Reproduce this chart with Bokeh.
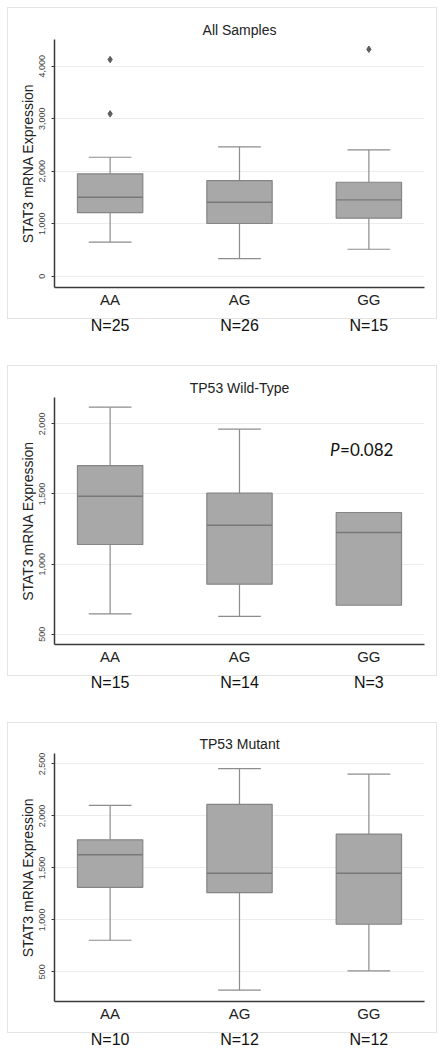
from bokeh.plotting import figure
from bokeh.models import (Range1d, FixedTicker, NumeralTickFormatter, LinearAxis, Label)
from bokeh.layouts import column
from bokeh.embed import file_html
from bokeh.resources import INLINE

# ---------------- data ----------------
categories = ["AA", "AG", "GG"]

# All samples
all_n = [25, 26, 15]
all_low = [648, 337, 514]
all_q1 = [1213, 1004, 1105]
all_med = [1505, 1410, 1455]
all_q3 = [1950, 1823, 1790]
all_high = [2267, 2464, 2408]
all_out_cat = ["AA", "AA", "GG"]
all_out_val = [4128, 3093, 4324]
all_ticks = [0, 1000, 2000, 3000, 4000]

# TP53 wild-type
wt_n = [15, 14, 3]
wt_low = [645, 628, 707]
wt_q1 = [1140, 857, 707]
wt_med = [1484, 1277, 1225]
wt_q3 = [1703, 1506, 1368]
wt_high = [2119, 1962, 1368]
wt_ticks = [500, 1000, 1500, 2000]
wt_p_text = "=0.082"

# TP53 mutant
mut_n = [10, 12, 12]
mut_low = [804, 324, 510]
mut_q1 = [1313, 1262, 958]
mut_med = [1626, 1448, 1448]
mut_q3 = [1770, 2110, 1825]
mut_high = [2101, 2455, 2401]
mut_ticks = [500, 1000, 1500, 2000, 2500]

# ---------------- style ----------------
FONT = "Liberation Sans"
BOX_FILL = "#a8a8a8"
BOX_LINE = "#858585"
WHISK = "#8c8c8c"
AXIS = "#3a3a3a"
BORDER = "#e4e4e4"
BOX_W = 0.505
CAP_W = 0.33
FIG_W = 445


def border_styles(bottom):
    # faint panel frame drawn as the page background behind the (transparent) canvas
    g = f"linear-gradient({BORDER},{BORDER})"
    h = bottom - 7
    return {
        "background-color": "white",
        "background-image": ", ".join([g] * 4),
        "background-size": f"430px 1px, 430px 1px, 1px {h}px, 1px {h}px",
        "background-position": f"7px 7px, 7px {bottom}px, 7px 7px, 436px 7px",
        "background-repeat": "no-repeat",
    }


def panel(title, n, low, q1, med, q3, high, yrange, yticks, height, top, frame_h,
          border_bottom, out_cat=None, out_val=None, ptext=None, ppos=None):
    pos = [i + 1 for i in range(len(categories))]
    p = figure(width=FIG_W, height=height, output_backend="svg", toolbar_location=None,
               x_range=Range1d(0.57, 3.43), y_range=Range1d(*yrange),
               min_border_left=54, min_border_right=21, min_border_top=top,
               min_border_bottom=height - top - frame_h,
               styles=border_styles(border_bottom))
    p.outline_line_color = None
    p.background_fill_color = None
    p.border_fill_color = None

    p.title.text = title
    p.title.align = "center"
    p.title.text_font = FONT
    p.title.text_font_size = "14px"
    p.title.text_font_style = "normal"
    p.title.text_color = "#222222"
    p.title.standoff = 3

    # x axis (categories)
    xa = p.xaxis[0]
    xa.ticker = FixedTicker(ticks=pos)
    xa.major_label_overrides = {pp: c for pp, c in zip(pos, categories)}
    xa.major_tick_line_color = None
    xa.minor_tick_line_color = None
    xa.major_tick_out = 0
    xa.major_tick_in = 0
    xa.axis_line_color = AXIS
    xa.axis_line_width = 1.5
    xa.major_label_standoff = 3
    xa.major_label_text_font = FONT
    xa.major_label_text_font_size = "15px"
    xa.major_label_text_color = "#222222"

    # N labels axis
    na = LinearAxis(ticker=FixedTicker(ticks=pos),
                    major_label_overrides={pp: f"N={v}" for pp, v in zip(pos, n)},
                    axis_line_color=None, major_tick_line_color=None,
                    minor_tick_line_color=None, major_tick_out=0, major_tick_in=0,
                    major_label_standoff=6, major_label_text_font=FONT,
                    major_label_text_font_size="16px", major_label_text_color="#111111")
    p.add_layout(na, "below")

    # y axis
    ya = p.yaxis[0]
    ya.ticker = FixedTicker(ticks=yticks)
    ya.formatter = NumeralTickFormatter(format="0,0")
    ya.major_label_orientation = "vertical"
    ya.major_label_text_font = FONT
    ya.major_label_text_font_size = "9px"
    ya.major_label_text_color = "#444444"
    ya.major_label_standoff = 6
    ya.major_tick_out = 3
    ya.major_tick_in = 0
    ya.minor_tick_line_color = None
    ya.major_tick_line_color = AXIS
    ya.axis_line_color = AXIS
    ya.axis_line_width = 1.5
    ya.axis_label = "STAT3 mRNA Expression"
    ya.axis_label_text_font = FONT
    ya.axis_label_text_font_size = "14px"
    ya.axis_label_text_font_style = "normal"
    ya.axis_label_text_color = "#222222"
    ya.axis_label_standoff = 1

    p.xgrid.grid_line_color = None
    p.ygrid.grid_line_color = "#ececec"
    p.ygrid.grid_line_width = 1

    # whiskers (only where they extend beyond the box)
    up_idx = [i for i in range(len(pos)) if high[i] > q3[i]]
    lo_idx = [i for i in range(len(pos)) if low[i] < q1[i]]
    p.segment(x0=[pos[i] for i in up_idx], x1=[pos[i] for i in up_idx],
              y0=[q3[i] for i in up_idx], y1=[high[i] for i in up_idx],
              line_color=WHISK, line_width=1.2)
    p.segment(x0=[pos[i] for i in lo_idx], x1=[pos[i] for i in lo_idx],
              y0=[q1[i] for i in lo_idx], y1=[low[i] for i in lo_idx],
              line_color=WHISK, line_width=1.2)
    p.segment(x0=[pos[i] - CAP_W / 2 for i in up_idx], x1=[pos[i] + CAP_W / 2 for i in up_idx],
              y0=[high[i] for i in up_idx], y1=[high[i] for i in up_idx],
              line_color=WHISK, line_width=1.2)
    p.segment(x0=[pos[i] - CAP_W / 2 for i in lo_idx], x1=[pos[i] + CAP_W / 2 for i in lo_idx],
              y0=[low[i] for i in lo_idx], y1=[low[i] for i in lo_idx],
              line_color=WHISK, line_width=1.2)

    # boxes
    p.vbar(x=pos, top=q3, bottom=q1, width=BOX_W, fill_color=BOX_FILL,
           line_color=BOX_LINE, line_width=1.2)
    p.segment(x0=[x - BOX_W / 2 for x in pos], x1=[x + BOX_W / 2 for x in pos],
              y0=med, y1=med, line_color="#787878", line_width=1.4)

    if out_cat:
        ox = [categories.index(c) + 1 for c in out_cat]
        p.scatter(ox, out_val, marker="diamond", size=6.5, color="#5e5e5e")

    if ptext:
        p.add_layout(Label(x=ppos[0], y=ppos[1], text="P", text_font="Lato",
                           text_font_style="italic", text_font_size="17px",
                           text_baseline="middle", text_color="#111111"))
        p.add_layout(Label(x=ppos[0], y=ppos[1], x_offset=10, text=ptext, text_font="Lato",
                           text_font_size="17px", text_baseline="middle",
                           text_color="#111111"))
    return p


p1 = panel("All Samples", all_n, all_low, all_q1, all_med, all_q3, all_high,
           (-215, 4510), all_ticks, 358, 39, 248, 318,
           out_cat=all_out_cat, out_val=all_out_val)
p2 = panel("TP53 Wild-Type", wt_n, wt_low, wt_q1, wt_med, wt_q3, wt_high,
           (427, 2188), wt_ticks, 357, 39, 247, 317, ptext=wt_p_text, ppos=(2.70, 1820))
p3 = panel("TP53 Mutant", mut_n, mut_low, mut_q1, mut_med, mut_q3, mut_high,
           (215, 2600), mut_ticks, 335, 38, 249, 317)

layout = column(p1, p2, p3, spacing=0)
open("out.html", "w").write(file_html(layout, INLINE))
